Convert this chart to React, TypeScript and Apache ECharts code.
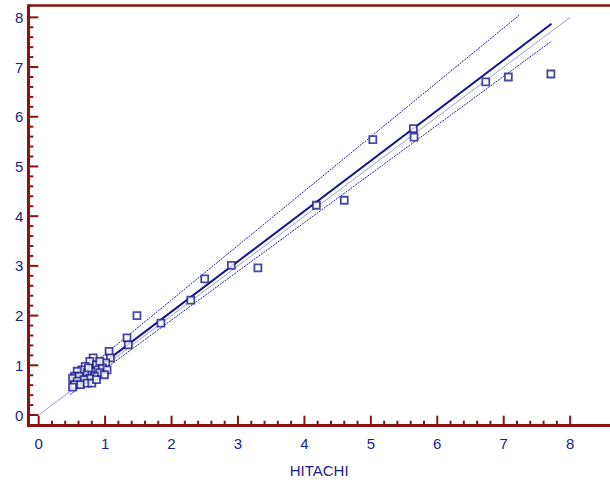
import React, { useEffect, useRef } from "react";
import * as echarts from "echarts";

// Measured values (HITACHI vs. second method)
const hitachiX = [
  1.06, 1.08, 1.01, 0.82, 0.77, 0.87, 0.70, 0.65, 0.58, 0.54, 0.51, 0.61, 0.73, 0.80, 0.89, 0.96,
  1.03, 0.92, 0.84, 0.77, 0.68, 0.58, 0.54, 0.51, 0.63, 0.73, 0.80, 0.87, 0.75, 0.92, 0.99,
  1.33, 1.35, 1.48, 1.84, 2.29, 2.50, 2.90, 3.30, 4.18, 4.60, 5.03, 5.64, 5.65, 6.73, 7.07, 7.71,
];
const otherY = [
  1.28, 1.15, 1.05, 1.15, 1.08, 1.01, 0.98, 0.91, 0.88, 0.78, 0.74, 0.78, 0.85, 0.88, 0.91, 0.95,
  0.91, 0.85, 0.78, 0.74, 0.71, 0.68, 0.61, 0.56, 0.61, 0.64, 0.64, 0.71, 0.95, 1.08, 0.81,
  1.55, 1.41, 2.00, 1.85, 2.31, 2.74, 3.01, 2.96, 4.22, 4.32, 5.54, 5.76, 5.59, 6.70, 6.80, 6.86,
];

// Line endpoints (x, y)
const regressionX = [0.47, 7.72];
const regressionY = [0.53, 7.87];
const upperCIX = [0.47, 7.23];
const upperCIY = [0.64, 8.04];
const lowerCIX = [0.47, 7.72];
const lowerCIY = [0.41, 7.52];
const identityX = [0, 8];
const identityY = [0, 8];

// Tick labels / tick marks
const majorTicks = [0, 1, 2, 3, 4, 5, 6, 7, 8];
const MINOR_PER_MAJOR = 5;

// Axis extents (the frame lies slightly beyond the tick range)
const X_MIN = -0.156;
const X_MAX = 8.6;
const Y_MIN = -0.215;
const Y_MAX = 8.234;

const AXIS_RED = "#8b1212";
const NAVY = "#1c1c8e";
const FONT = "'Liberation Sans', Arial, sans-serif";

const pairs = (xs: number[], ys: number[]) => xs.map((x, i) => [x, ys[i]]);

// tick list: [value, 1 = major | 0 = minor]
const tickData: number[][] = [];
majorTicks.forEach((v, i) => {
  tickData.push([v, 1]);
  if (i < majorTicks.length - 1) {
    const step = (majorTicks[i + 1] - v) / MINOR_PER_MAJOR;
    for (let k = 1; k < MINOR_PER_MAJOR; k++) tickData.push([+(v + k * step).toFixed(4), 0]);
  }
});

export default function App() {
  const ref = useRef<HTMLDivElement>(null);
  useEffect(() => {
    if (!ref.current) return;
    const chart = echarts.init(ref.current, null, { renderer: "svg" });
    const label = { color: NAVY, fontSize: 15, fontFamily: FONT };
    const tickStyle = { stroke: AXIS_RED, lineWidth: 2 };
    chart.setOption({
      animation: false,
      backgroundColor: "#ffffff",
      grid: { left: 28.3, top: 5.7, width: 616, height: 420 },
      xAxis: [
        {
          type: "value",
          position: "bottom",
          min: X_MIN,
          max: X_MAX,
          axisLine: { show: true, onZero: false, lineStyle: { color: AXIS_RED, width: 3 } },
          axisTick: { show: false },
          splitLine: { show: false },
          axisLabel: { ...label, margin: 10, customValues: majorTicks },
          name: "HITACHI",
          nameLocation: "middle",
          nameGap: 37,
          nameTextStyle: { color: NAVY, fontSize: 15, fontFamily: FONT },
        },
        {
          type: "value",
          position: "top",
          min: X_MIN,
          max: X_MAX,
          axisLine: { show: true, onZero: false, lineStyle: { color: AXIS_RED, width: 2.5 } },
          axisTick: { show: false },
          axisLabel: { show: false },
          splitLine: { show: false },
        },
      ],
      yAxis: {
        type: "value",
        position: "left",
        min: Y_MIN,
        max: Y_MAX,
        axisLine: { show: true, onZero: false, lineStyle: { color: AXIS_RED, width: 3 } },
        axisTick: { show: false },
        splitLine: { show: false },
        axisLabel: { ...label, margin: 5, customValues: majorTicks },
      },
      series: [
        {
          type: "line",
          data: pairs(identityX, identityY),
          showSymbol: false,
          clip: false,
          lineStyle: { color: "#9c9cdc", width: 1 },
          z: 1,
        },
        {
          type: "line",
          data: pairs(upperCIX, upperCIY),
          showSymbol: false,
          clip: false,
          lineStyle: { color: "#2222a0", width: 1, type: [2, 1] },
          z: 2,
        },
        {
          type: "line",
          data: pairs(lowerCIX, lowerCIY),
          showSymbol: false,
          clip: false,
          lineStyle: { color: "#2222a0", width: 1, type: [2, 1] },
          z: 2,
        },
        {
          type: "line",
          data: pairs(regressionX, regressionY),
          showSymbol: false,
          clip: false,
          lineStyle: { color: "#14148c", width: 2 },
          z: 3,
        },
        {
          type: "scatter",
          data: pairs(hitachiX, otherY),
          symbol: "rect",
          symbolSize: 7,
          clip: false,
          itemStyle: { color: "#ffffff", borderColor: "#1a1a8c", borderWidth: 1.8 },
          z: 4,
        },
        // x-axis tick marks (inward from the bottom frame line)
        {
          type: "custom",
          silent: true,
          z: 5,
          data: tickData,
          renderItem: (_p: any, api: any) => {
            const v = api.value(0);
            const len = api.value(1) === 1 ? 10 : 5;
            const pt = api.coord([v, Y_MIN]);
            return {
              type: "line",
              shape: { x1: pt[0], y1: pt[1], x2: pt[0], y2: pt[1] - len },
              style: tickStyle,
            };
          },
        },
        // y-axis tick marks (inward from the left frame line)
        {
          type: "custom",
          silent: true,
          z: 5,
          data: tickData,
          renderItem: (_p: any, api: any) => {
            const v = api.value(0);
            const len = api.value(1) === 1 ? 10 : 5;
            const pt = api.coord([X_MIN, v]);
            return {
              type: "line",
              shape: { x1: pt[0], y1: pt[1], x2: pt[0] + len, y2: pt[1] },
              style: tickStyle,
            };
          },
        },
      ],
    });
    return () => chart.dispose();
  }, []);
  return (
    <div
      ref={ref}
      style={{ position: "fixed", left: 0, top: 0, width: 610, height: 485, background: "#fff" }}
    />
  );
}
